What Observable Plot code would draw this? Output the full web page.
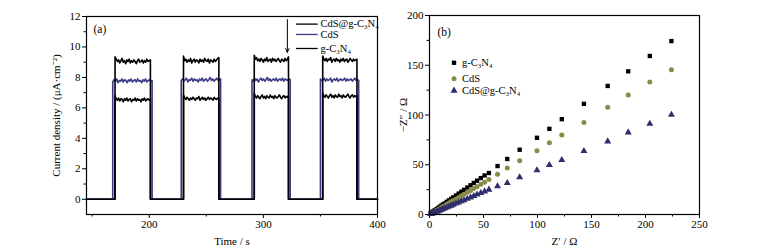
<!DOCTYPE html>
<html>
<head>
<meta charset="utf-8">
<script src="https://cdn.jsdelivr.net/npm/d3@7"></script>
<script src="https://cdn.jsdelivr.net/npm/@observablehq/plot@0.6"></script>
<style>
  html, body { margin: 0; padding: 0; background: #fff; }
  #wrap { position: relative; width: 758px; height: 249px; background: #fff; overflow: hidden; }
  #pa, #pb { position: absolute; top: 0; }
  #pa { left: 0; }
  #pb { left: 378px; }
  svg { overflow: visible; }
</style>
</head>
<body>
<div id="wrap"><div id="pa"></div><div id="pb"></div></div>
<script>
// ---------- Panel (a): transient photocurrent ----------
const seriesA = ["CdS@g-C₃N₄", "CdS", "g-C₃N₄"];
const colorsA = ["#000000", "#3c3c86", "#000000"];
// light-on / light-off times (s)
const onBlack = [170, 230, 292, 352];
const offBlack = [201, 261, 322, 382];
const onBlue = [168, 228, 290, 350];
const offBlue = [202.5, 262.5, 323.5, 383.5];
// plateau readings (μA·cm⁻²), sampled across each light-on period
const compositeVals = [
  [9.35, 9.2, 9.05, 9.15, 8.95, 9.1, 9.25, 9.0, 9.1, 8.9, 9.15, 9.05, 9.2, 8.95, 9.1, 9.0, 9.15, 9.05, 8.9, 9.1, 9.2, 9.0, 9.05, 9.15, 8.95, 9.1, 9.0, 9.2, 9.05, 9.1, 9.15],
  [9.4, 9.1, 9.2, 9.0, 9.15, 9.05, 9.25, 8.95, 9.1, 9.2, 9.0, 9.15, 9.1, 8.95, 9.2, 9.05, 9.15, 9.0, 9.25, 9.1, 9.05, 9.2, 8.95, 9.15, 9.1, 9.0, 9.2, 9.05, 9.15, 9.25, 9.3],
  [9.45, 9.2, 9.3, 9.1, 9.2, 9.05, 9.25, 9.15, 9.0, 9.2, 9.1, 9.3, 9.05, 9.15, 9.2, 9.0, 9.25, 9.1, 9.2, 9.05, 9.15, 9.25, 9.1, 9.0, 9.2, 9.15, 9.05, 9.25, 9.1, 9.2, 9.35],
  [9.4, 9.2, 9.1, 9.25, 9.05, 9.2, 9.15, 9.3, 9.0, 9.15, 9.2, 9.05, 9.25, 9.1, 9.15, 9.0, 9.2, 9.1, 9.25, 9.05, 9.15, 9.2, 9.0, 9.1, 9.25, 9.15, 9.05, 9.2, 9.1, 9.15, 9.2]
];
const cdsVals = [
  [7.7, 7.85, 7.75, 7.9, 7.65, 7.8, 7.75, 7.9, 7.7, 7.85, 7.8, 7.65, 7.85, 7.75, 7.9, 7.7, 7.8, 7.85, 7.7, 7.9, 7.75, 7.8, 7.65, 7.85, 7.75, 7.9, 7.7, 7.8, 7.85, 7.75, 7.8],
  [7.8, 7.9, 7.75, 7.85, 7.95, 7.7, 7.85, 7.8, 7.95, 7.75, 7.9, 7.8, 7.85, 7.7, 7.9, 7.8, 7.95, 7.75, 7.85, 7.9, 7.75, 7.85, 8.0, 7.8, 7.9, 7.75, 7.85, 7.95, 7.8, 7.85, 7.9],
  [7.85, 7.75, 7.95, 7.8, 7.9, 7.7, 7.85, 7.95, 7.8, 7.9, 7.75, 7.85, 8.0, 7.8, 7.9, 7.75, 7.85, 7.9, 7.8, 7.95, 7.75, 7.85, 7.9, 7.8, 7.95, 7.75, 7.9, 7.85, 7.8, 7.9, 7.85],
  [7.9, 7.8, 7.85, 7.95, 7.75, 7.9, 7.8, 7.85, 7.95, 7.7, 7.85, 7.9, 7.8, 7.95, 7.75, 7.85, 7.9, 7.8, 7.85, 7.95, 7.75, 7.9, 7.8, 7.85, 7.9, 7.75, 7.85, 7.95, 7.8, 7.85, 7.8]
];
const gcnVals = [
  [6.8, 6.6, 6.5, 6.65, 6.45, 6.6, 6.55, 6.4, 6.6, 6.5, 6.65, 6.45, 6.55, 6.6, 6.4, 6.55, 6.5, 6.65, 6.45, 6.6, 6.5, 6.55, 6.4, 6.6, 6.5, 6.65, 6.45, 6.55, 6.6, 6.5, 6.55],
  [6.85, 6.65, 6.55, 6.7, 6.6, 6.5, 6.65, 6.55, 6.7, 6.6, 6.5, 6.65, 6.6, 6.75, 6.5, 6.6, 6.7, 6.55, 6.65, 6.5, 6.6, 6.7, 6.55, 6.65, 6.6, 6.5, 6.7, 6.6, 6.55, 6.65, 6.6],
  [6.95, 6.75, 6.65, 6.8, 6.7, 6.6, 6.75, 6.85, 6.65, 6.75, 6.6, 6.8, 6.7, 6.65, 6.85, 6.7, 6.75, 6.6, 6.8, 6.7, 6.65, 6.75, 6.85, 6.7, 6.6, 6.75, 6.8, 6.65, 6.75, 6.7, 6.8],
  [6.95, 6.8, 6.7, 6.85, 6.75, 6.65, 6.8, 6.9, 6.7, 6.8, 6.65, 6.85, 6.75, 6.7, 6.9, 6.75, 6.8, 6.65, 6.85, 6.75, 6.7, 6.8, 6.9, 6.75, 6.65, 6.8, 6.85, 6.7, 6.8, 6.75, 6.8]
];
const timeStart = 145, timeEnd = 400;
const xTicksA = [200, 300, 400];
const xMinorA = [150, 250, 350];
const yTicksA = [0, 2, 4, 6, 8, 10, 12];
const yMinorA = [1, 3, 5, 7, 9, 11];
// arrow annotation (time, from, to)
const arrowA = [{t: 321, from: 11.8, to: 9.65}];

function buildSeries(name, ons, offs, vals) {
  const pts = [{name, t: timeStart, v: 0}];
  ons.forEach((on, k) => {
    const off = offs[k], row = vals[k], n = row.length;
    pts.push({name, t: on, v: 0});
    row.forEach((v, i) => pts.push({name, t: on + (off - on) * i / (n - 1), v}));
    pts.push({name, t: off, v: 0});
  });
  pts.push({name, t: timeEnd, v: 0});
  return pts;
}
const lineG = buildSeries(seriesA[2], onBlack, offBlack, gcnVals);
const lineC = buildSeries(seriesA[1], onBlue, offBlue, cdsVals);
const lineCG = buildSeries(seriesA[0], onBlack, offBlack, compositeVals);

const legendA = seriesA.map((s, i) => ({s, c: colorsA[i], y: [11.5, 10.82, 9.9][i]}));

const font = "'Liberation Serif', 'Times New Roman', serif";

const plotA = Plot.plot({
  width: 400, height: 249,
  marginLeft: 86, marginRight: 23, marginTop: 16, marginBottom: 35,
  style: {fontFamily: font, fontSize: "11px", color: "#000", background: "transparent", overflow: "visible"},
  x: {domain: [timeStart, timeEnd]},
  y: {domain: [-1, 12]},
  marks: [
    Plot.axisX({ticks: xMinorA, tickSize: 2.5, tickFormat: () => "", label: null}),
    Plot.axisX({ticks: xTicksA, tickSize: 4, tickPadding: 2, label: "Time / s", labelAnchor: "center", labelArrow: false, labelOffset: 30}),
    Plot.axisY({ticks: yMinorA, tickSize: 2.5, tickFormat: () => "", label: null}),
    Plot.axisY({ticks: yTicksA, tickSize: 4, tickPadding: 2, label: "Current density / (μA·cm⁻²)", labelAnchor: "center", labelArrow: false, labelOffset: 34}),
    Plot.line(lineG, {x: "t", y: "v", stroke: colorsA[2], strokeWidth: 1.6, curve: "linear"}),
    Plot.line(lineC, {x: "t", y: "v", stroke: colorsA[1], strokeWidth: 1.6, curve: "linear"}),
    Plot.line(lineCG, {x: "t", y: "v", stroke: colorsA[0], strokeWidth: 1.6, curve: "linear"}),
    Plot.arrow(arrowA, {x: "t", y1: "from", y2: "to", stroke: "#000", strokeWidth: 1, headLength: 6, headAngle: 50}),
    Plot.ruleY(legendA, {y: "y", x1: 329, x2: 348, stroke: "c", strokeWidth: 1.3}),
    Plot.text(legendA, {y: "y", x: 350, text: "s", textAnchor: "start", fontSize: 10.5}),
    Plot.text(["(a)"], {frameAnchor: "top-left", dx: 7, dy: 8, textAnchor: "start", lineAnchor: "top", fontSize: 11.5}),
    Plot.frame({stroke: "#000", strokeWidth: 1.2})
  ]
});
document.getElementById("pa").appendChild(plotA);

// ---------- Panel (b): Nyquist plot ----------
const seriesB = ["g-C₃N₄", "CdS", "CdS@g-C₃N₄"];
const colorsB = ["#000000", "#8a8a48", "#2e2e6c"];
const symbolsB = ["square", "circle", "triangle"];
const zRe = [224, 204, 184, 165, 143, 122.5, 111, 99.5, 83.5, 72, 63, 55, 51, 47.5, 44, 41, 38, 35, 32, 29.5, 27, 24.5, 22, 20, 18, 16, 14, 12.5, 11, 9.5, 8, 6.5, 5, 4, 3, 2, 1];
const zImG = [174.3, 159.3, 143.9, 129.2, 111.2, 95.8, 86.1, 77.1, 65.1, 55.8, 48.7, 41.7, 39.2, 36.6, 34, 31.7, 29.4, 27.1, 24.8, 22.9, 21, 19.1, 17.2, 15.7, 14.2, 12.7, 11.1, 10, 8.9, 7.7, 6.6, 5.4, 4.3, 3.5, 2.8, 2, 1.3];
const zImC = [145.6, 133.2, 120.2, 107.8, 92.5, 79.8, 72.1, 64.1, 54.1, 46.7, 40.4, 35.1, 32.5, 30.3, 28, 26.1, 24.2, 22.3, 20.4, 18.8, 17.2, 15.6, 14, 12.7, 11.5, 10.2, 8.9, 8, 7, 6.1, 5.1, 4.2, 3.3, 2.6, 2, 1.4, 0.8];
const zImCG = [100.2, 91.2, 82.5, 73.5, 63.8, 54.8, 49.7, 44.4, 37.4, 31.7, 28.4, 25.0, 23.2, 21.6, 20, 18.6, 17.2, 15.8, 14.4, 13.3, 12.1, 11, 9.8, 8.9, 8, 7.1, 6.2, 5.5, 4.8, 4.1, 3.4, 2.8, 2.1, 1.7, 1.3, 0.9, 0.5];
const xTicksB = [0, 50, 100, 150, 200, 250];
const xMinorB = [25, 75, 125, 175, 225];
const yTicksB = [0, 50, 100, 150, 200];
const yMinorB = [25, 75, 125, 175];

const imags = [zImG, zImC, zImCG];
const radii = [2.45, 2.5, 2.6];
const nyq = [];
seriesB.forEach((s, k) => zRe.forEach((x, i) => nyq.push({s, k, x, y: imags[k][i]})));
const legendB = seriesB.map((s, k) => ({s, k, y: [152.5, 136.5, 124.5][k]}));

const dotMarks = [];
seriesB.forEach((s, k) => {
  dotMarks.push(Plot.dot(nyq.filter(d => d.k === k), {x: "x", y: "y", symbol: symbolsB[k], r: radii[k], fill: colorsB[k], stroke: "none"}));
  dotMarks.push(Plot.dot(legendB.filter(d => d.k === k), {x: 22.7, y: "y", symbol: symbolsB[k], r: radii[k], fill: colorsB[k], stroke: "none"}));
});

const plotB = Plot.plot({
  width: 380, height: 249,
  marginLeft: 51, marginRight: 59, marginTop: 15, marginBottom: 35,
  style: {fontFamily: font, fontSize: "11px", color: "#000", background: "transparent", overflow: "visible"},
  x: {domain: [0, 250]},
  y: {domain: [0, 200]},
  marks: [
    Plot.axisX({ticks: xMinorB, tickSize: 2.5, tickFormat: () => "", label: null}),
    Plot.axisX({ticks: xTicksB, tickSize: 4, tickPadding: 2, label: "Z′ / Ω", labelAnchor: "center", labelArrow: false, labelOffset: 30}),
    Plot.axisY({ticks: yMinorB, tickSize: 2.5, tickFormat: () => "", label: null}),
    Plot.axisY({ticks: yTicksB, tickSize: 4, tickPadding: 2, label: "−Z″ / Ω", labelAnchor: "center", labelArrow: false, labelOffset: 30}),
    ...dotMarks,
    Plot.text(legendB, {x: 30, y: "y", text: "s", textAnchor: "start", fontSize: 10.5}),
    Plot.text(["(b)"], {frameAnchor: "top-left", dx: 8, dy: 12, textAnchor: "start", lineAnchor: "top", fontSize: 11.5}),
    Plot.frame({stroke: "#000", strokeWidth: 1.2})
  ]
});
document.getElementById("pb").appendChild(plotB);
</script>
</body>
</html>
